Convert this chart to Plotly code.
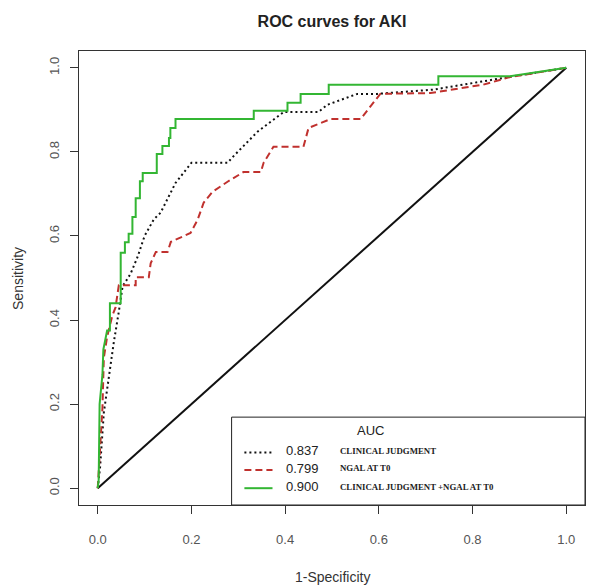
import plotly.graph_objects as go

# ROC curve vertices (1-specificity, sensitivity)
clin_fpr = [0, 0.005, 0.013, 0.025, 0.034, 0.045, 0.053, 0.07, 0.085, 0.1, 0.12, 0.134, 0.15,
            0.166, 0.2, 0.277, 0.29, 0.309, 0.341, 0.397, 0.471, 0.49, 0.554, 0.597, 0.716,
            0.866, 1.0]
clin_tpr = [0, 0.05, 0.18, 0.28, 0.345, 0.42, 0.48, 0.51, 0.55, 0.6, 0.64, 0.655, 0.69,
            0.726, 0.774, 0.774, 0.79, 0.812, 0.848, 0.895, 0.895, 0.912, 0.938, 0.938, 0.948,
            0.976, 1.0]

ngal_fpr = [0, 0.003, 0.01, 0.013, 0.02, 0.031, 0.038, 0.045, 0.081, 0.081, 0.109, 0.113,
            0.124, 0.149, 0.156, 0.198, 0.213, 0.226, 0.245, 0.277, 0.311, 0.348, 0.354,
            0.375, 0.439, 0.45, 0.497, 0.561, 0.603, 0.71, 0.823, 0.88, 1.0]
ngal_tpr = [0, 0.05, 0.19, 0.31, 0.36, 0.41, 0.43, 0.483, 0.483, 0.502, 0.502, 0.535,
            0.562, 0.562, 0.586, 0.607, 0.638, 0.679, 0.705, 0.729, 0.752, 0.752, 0.774,
            0.812, 0.812, 0.857, 0.878, 0.878, 0.938, 0.94, 0.96, 0.978, 1.0]

comb_fpr = [0, 0.002, 0.004, 0.01, 0.012, 0.017, 0.02, 0.026, 0.026, 0.049, 0.049, 0.058,
            0.058, 0.066, 0.066, 0.074, 0.074, 0.081, 0.081, 0.09, 0.09, 0.096, 0.096, 0.126,
            0.126, 0.138, 0.138, 0.152, 0.152, 0.155, 0.155, 0.166, 0.166, 0.333, 0.333,
            0.405, 0.405, 0.433, 0.433, 0.493, 0.493, 0.727, 0.727, 0.88, 0.94, 1.0]
comb_tpr = [0, 0.02, 0.2, 0.27, 0.33, 0.36, 0.375, 0.375, 0.44, 0.44, 0.56, 0.56,
            0.585, 0.585, 0.605, 0.605, 0.645, 0.645, 0.69, 0.69, 0.73, 0.73, 0.75, 0.75,
            0.795, 0.795, 0.814, 0.814, 0.833, 0.833, 0.857, 0.857, 0.878, 0.878, 0.898,
            0.898, 0.917, 0.917, 0.938, 0.938, 0.96, 0.96, 0.98, 0.98, 0.99, 1.0]

auc_values = ["0.837", "0.799", "0.900"]
auc_labels = ["CLINICAL JUDGMENT", "NGAL AT T0", "CLINICAL JUDGMENT +NGAL AT T0"]
ticks = [0, 0.2, 0.4, 0.6, 0.8, 1.0]

BLACK = "#111111"
RED = "#C0312E"
GREEN = "#33B633"

# the page body adds an 8px margin, so the figure is sized to fit inside it
W, H = 592, 579

fig = go.Figure()

# reference diagonal
fig.add_trace(go.Scatter(x=[0, 1], y=[0, 1], mode="lines",
                         line=dict(color=BLACK, width=2), showlegend=False))

curves = [
    (clin_fpr, clin_tpr, BLACK, "2px,3px"),
    (ngal_fpr, ngal_tpr, RED, "7px,4px"),
    (comb_fpr, comb_tpr, GREEN, "solid"),
]
for fpr, tpr, color, dash in curves:
    fig.add_trace(go.Scatter(x=fpr, y=tpr, mode="lines",
                             line=dict(color=color, width=2, dash=dash),
                             showlegend=False))

# legend box drawn by hand, like the R legend
box_x0, box_y1 = 0.2857, 0.169
fig.add_shape(type="rect", xref="x", yref="y", x0=box_x0, x1=1.04, y0=-0.04, y1=box_y1,
              line=dict(color="#222222", width=1), fillcolor="rgba(0,0,0,0)")
fig.add_annotation(x=0.582, y=0.138, xref="x", yref="y", text="AUC", showarrow=False,
                   font=dict(family="Liberation Sans, Arial", size=13, color="#222222"))

row_y = [0.085, 0.043, 0.0]
for (_, _, color, dash), yy, val, lab in zip(curves, row_y, auc_values, auc_labels):
    fig.add_shape(type="line", xref="x", yref="y", x0=0.313, x1=0.373, y0=yy, y1=yy,
                  line=dict(color=color, width=2, dash=dash))
    fig.add_annotation(x=0.397, y=yy + 0.004, xref="x", yref="y", text=val, showarrow=False,
                       xanchor="left",
                       font=dict(family="Liberation Sans, Arial", size=13, color="#222222"))
    fig.add_annotation(x=0.512, y=yy + 0.004, xref="x", yref="y", text="<b>%s</b>" % lab,
                       showarrow=False, xanchor="left",
                       font=dict(family="Liberation Serif, Times New Roman", size=8.8,
                                 color="#222222"))

# axis titles
fig.add_annotation(x=0.5, y=-0.158, xref="paper", yref="paper", text="1-Specificity",
                   showarrow=False, yanchor="middle",
                   font=dict(family="Liberation Sans, Arial", size=14, color="#333333"))
fig.add_annotation(x=-0.1206, y=0.5, xref="paper", yref="paper", text="Sensitivity",
                   showarrow=False, textangle=-90, xanchor="center",
                   font=dict(family="Liberation Sans, Arial", size=14, color="#333333"))

axis_style = dict(
    range=[-0.04, 1.04], tickvals=ticks, tickformat=".1f",
    ticks="outside", ticklen=8, tickcolor="#333333", tickwidth=1,
    showline=True, mirror=True, linecolor="#333333", linewidth=1,
    showgrid=False, zeroline=False,
    tickfont=dict(family="Liberation Sans, Arial", size=13, color="#555555"),
)

fig.update_xaxes(**axis_style, ticklabelstandoff=14)
fig.update_yaxes(**axis_style, tickangle=-90, ticklabelstandoff=6)

fig.update_layout(
    width=W, height=H,
    margin=dict(l=71, r=15, t=43, b=82, autoexpand=False),
    plot_bgcolor="white", paper_bgcolor="white",
    title=dict(text="<b>ROC curves for AKI</b>", x=324 / W, xanchor="center",
               y=1 - 13 / H, yanchor="middle",
               font=dict(family="Liberation Sans, Arial", size=16, color="#222222")),
    showlegend=False,
)

fig.write_html("out.html")
